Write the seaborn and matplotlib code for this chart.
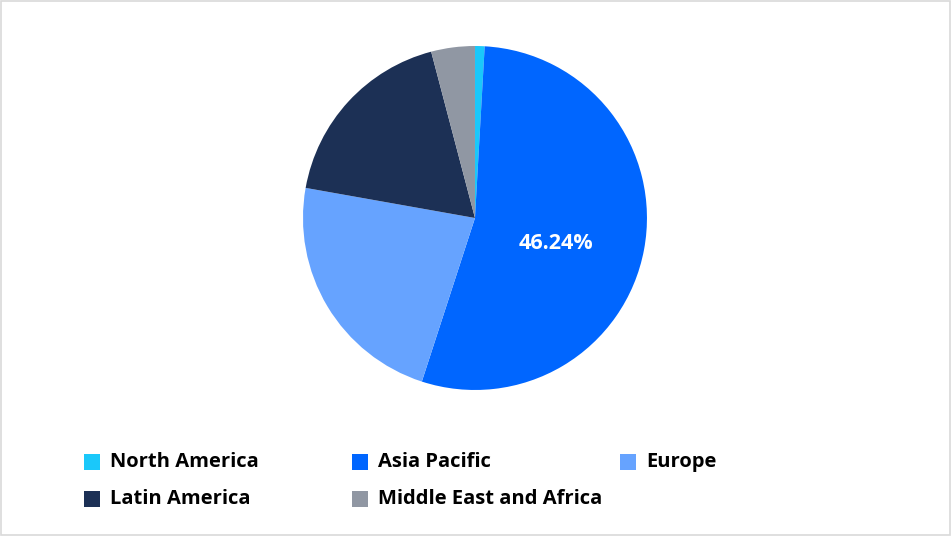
import seaborn as sns
import matplotlib.pyplot as plt
from matplotlib.patches import Rectangle

regions = ['North America', 'Asia Pacific', 'Europe', 'Latin America', 'Middle East and Africa']
shares = [0.9, 54.1, 22.8, 18.1, 4.1]
colors = ['#1AC8FA', '#0066FF', '#66A3FF', '#1C3055', '#9097A3']
shown_label = '46.24%'

sns.set_theme(style='white')
plt.rcParams['font.family'] = ['Open Sans', 'DejaVu Sans']

fig = plt.figure(figsize=(9.51, 5.36), dpi=100)
fig.patches.append(Rectangle((0.001, 0.001), 0.998, 0.997, transform=fig.transFigure,
                             fill=False, edgecolor='#D9D9D9', linewidth=1.2))

ax = fig.add_axes([0.3186, 0.2724, 0.3617, 0.6418])
ax.pie(shares, colors=colors, startangle=90, counterclock=False,
       wedgeprops=dict(linewidth=0))
ax.set_xlim(-1, 1)
ax.set_ylim(-1, 1)
ax.set_aspect('equal')
ax.text(0.47, -0.15, shown_label, color='white', fontsize=15.5, fontweight='bold',
        ha='center', va='center')

# legend, 3 columns x 2 rows
col_x = [84, 352, 620]
row_y = [462, 499]
for i, (name, c) in enumerate(zip(regions, colors)):
    x = col_x[i % 3]
    y = row_y[i // 3]
    fig.patches.append(Rectangle((x / 951, (536 - y - 8) / 536), 16 / 951, 16 / 536,
                                 transform=fig.transFigure, facecolor=c, edgecolor='none'))
    fig.text((x + 26) / 951, (536 - y) / 536, name, fontsize=14.5, fontweight='bold',
             color='black', ha='left', va='center')

fig.savefig('out.png', dpi=100)
